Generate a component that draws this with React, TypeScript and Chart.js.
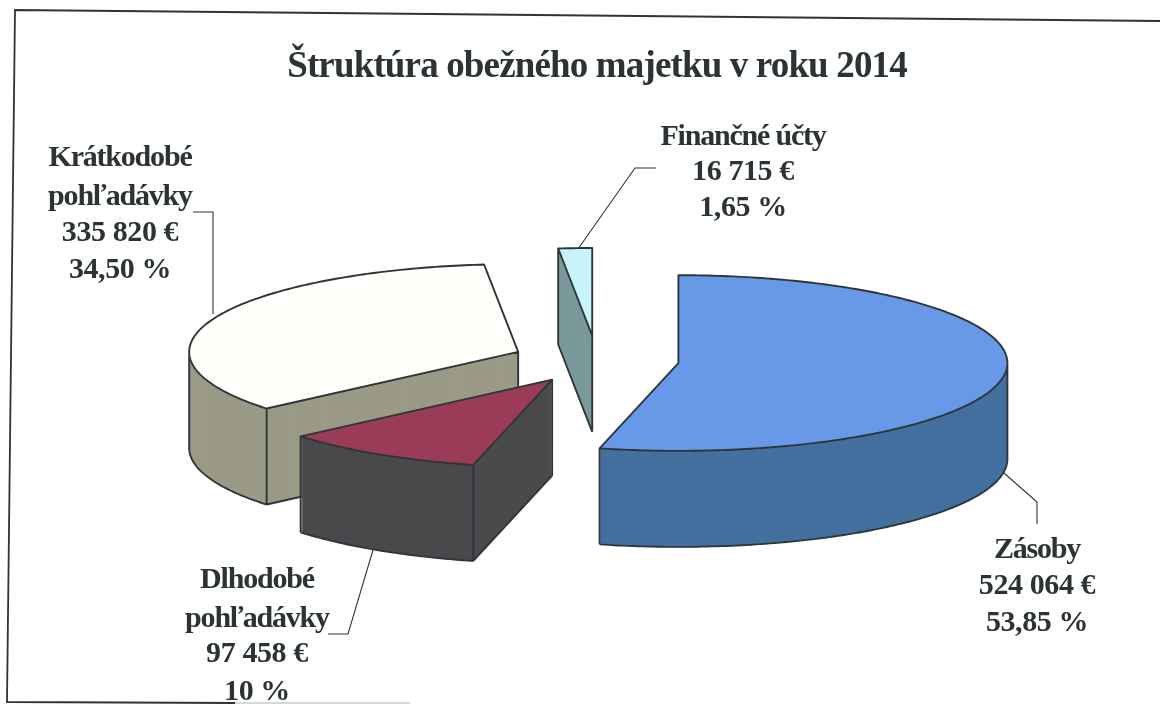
import React, { useEffect, useRef } from "react";
import { Chart, registerables } from "chart.js";

Chart.register(...registerables);

const titleText = "Štruktúra obežného majetku v roku 2014";
const categories = ["Zásoby", "Dlhodobé pohľadávky", "Krátkodobé pohľadávky", "Finančné účty"];
const shares = [53.85, 10, 34.5, 1.65];
const labelLines = [
  ["Zásoby", "524 064 €", "53,85 %"],
  ["Dlhodobé", "pohľadávky", "97 458 €", "10 %"],
  ["Krátkodobé", "pohľadávky", "335 820 €", "34,50 %"],
  ["Finančné účty", "16 715 €", "1,65 %"],
];
const topColors = ["#6799e8", "#9a3b58", "#fffffb", "#c6f4fa"];
const sideColors = ["#44709f", "#4a494c", "#9a9a86", "#7b999c"];
const explode = [82, 85, 85, 92];
const drawOrder = [2, 3, 1, 0];

const tilt = 0.267;
const depth = 96;
const INK = "#2b3434";

const labelX = [1037, 257, 120, 743];
const labelY = [
  [550, 586, 623],
  [580, 619, 654, 692],
  [158, 197, 233, 270],
  [137, 172, 208],
];
const leaders = [
  [[1004, 473], [1037, 502], [1037, 524]],
  [[373, 550], [348, 634], [328, 634]],
  [[193, 212], [213, 212], [213, 314]],
  [[578, 249], [635, 168], [656, 168]],
];
const frame = [[1160, 21], [15, 10], [7, 702], [235, 703]];
const frameFaded = [[235, 703], [410, 703]];

const pie3d = {
  id: "pie3d",
  beforeDraw(chart: any) {
    // tight setting of the scanned title
    chart.ctx.letterSpacing = "-0.85px";
  },
  beforeDatasetDraw() {
    return false;
  },
  beforeDatasetsDraw(chart: any) {
    const ctx = chart.ctx;
    ctx.letterSpacing = "0px";
    ctx.save();
    ctx.lineWidth = 1.8;
    ctx.strokeStyle = "#333";
    ctx.beginPath();
    frame.forEach(([x, y], i) => (i ? ctx.lineTo(x, y) : ctx.moveTo(x, y)));
    ctx.stroke();
    ctx.strokeStyle = "#d8d8d8";
    ctx.beginPath();
    frameFaded.forEach(([x, y], i) => (i ? ctx.lineTo(x, y) : ctx.moveTo(x, y)));
    ctx.stroke();
    ctx.restore();
  },
  afterDatasetsDraw(chart: any) {
    const ctx = chart.ctx;
    const arcs = chart.getDatasetMeta(0).data;

    drawOrder.forEach((i) => {
      const arc = arcs[i];
      const { x, y, startAngle, endAngle, outerRadius } = arc.getProps(
        ["x", "y", "startAngle", "endAngle", "outerRadius"],
        true
      );
      const mid = (startAngle + endAngle) / 2;
      const ox = Math.cos(mid) * explode[i];
      const oy = Math.sin(mid) * explode[i];
      const original = arc.options;

      const paint = (fill: string, dy: number) => {
        const o = Object.create(original);
        o.backgroundColor = fill;
        o.borderWidth = 0;
        o.offset = 0;
        arc.options = o;
        ctx.save();
        ctx.translate(0, y + dy);
        ctx.scale(1, tilt);
        ctx.translate(ox, -y + oy);
        arc.draw(ctx);
        ctx.restore();
      };

      // sides as stacked library arcs, top face last
      for (let d = depth; d > 0; d -= 1) paint(sideColors[i], d);
      paint(topColors[i], 0);
      arc.options = original;

      // projected outline of the wedge
      const pts: number[][] = [];
      const px = (a: number) => x + ox + Math.cos(a) * outerRadius;
      const py = (a: number) => y + (oy + Math.sin(a) * outerRadius) * tilt;
      const apex = [x + ox, y + oy * tilt];
      pts.push(apex);
      const steps = Math.max(2, Math.ceil((endAngle - startAngle) / 0.015));
      for (let s = 0; s <= steps; s += 1) {
        const a = startAngle + ((endAngle - startAngle) * s) / steps;
        pts.push([px(a), py(a)]);
      }
      const n = pts.length;
      const front = (k: number) => pts[(k + 1) % n][0] - pts[k][0] < -1e-6;

      ctx.save();
      ctx.strokeStyle = "#2e3638";
      ctx.lineWidth = 1.9;
      ctx.lineJoin = "round";
      ctx.beginPath();
      pts.forEach(([a, b], k) => (k ? ctx.lineTo(a, b) : ctx.moveTo(a, b)));
      ctx.closePath();
      for (let k = 0; k < n; k += 1) {
        if (front(k)) {
          ctx.moveTo(pts[k][0], pts[k][1] + depth);
          ctx.lineTo(pts[(k + 1) % n][0], pts[(k + 1) % n][1] + depth);
        }
        const prev = front((k - 1 + n) % n);
        const next = front(k);
        const corner = k === 0 || k === 1 || k === n - 1;
        if (prev !== next || (corner && (prev || next))) {
          ctx.moveTo(pts[k][0], pts[k][1]);
          ctx.lineTo(pts[k][0], pts[k][1] + depth);
        }
      }
      ctx.stroke();
      ctx.restore();
    });

    // leader lines and labels
    ctx.save();
    ctx.strokeStyle = "#333";
    ctx.lineWidth = 1.1;
    leaders.forEach((line) => {
      ctx.beginPath();
      line.forEach(([a, b], k) => (k ? ctx.lineTo(a, b) : ctx.moveTo(a, b)));
      ctx.stroke();
    });
    ctx.fillStyle = INK;
    ctx.font = 'bold 30px "Liberation Serif"';
    ctx.textAlign = "center";
    ctx.textBaseline = "middle";
    labelLines.forEach((lines, i) => {
      lines.forEach((t, k) => {
        ctx.letterSpacing = /\d/.test(t) ? "-0.4px" : "-1.2px";
        ctx.fillText(t, labelX[i], labelY[i][k]);
      });
    });
    ctx.letterSpacing = "0px";
    ctx.restore();
  },
};

export default function App() {
  const ref = useRef<HTMLCanvasElement>(null);
  useEffect(() => {
    document.body.style.margin = "0";
    document.body.style.background = "#ffffff";
    const chart = new Chart(ref.current!, {
      type: "pie",
      data: {
        labels: categories,
        datasets: [{ data: shares, backgroundColor: topColors, borderWidth: 0 }],
      },
      options: {
        animation: false,
        responsive: false,
        radius: 329,
        layout: { padding: { left: 34, right: 0, top: 45, bottom: 76.6 } },
        plugins: {
          legend: { display: false },
          tooltip: { enabled: false },
          title: {
            display: true,
            text: titleText,
            color: INK,
            font: { family: '"Liberation Serif"', size: 37, weight: "bold", lineHeight: 1.2 },
            padding: { top: 0, bottom: 4 },
          },
        },
      } as any,
      plugins: [pie3d as any],
    });
    return () => chart.destroy();
  }, []);
  return (
    <div style={{ position: "fixed", left: 0, top: 0, width: 1160, height: 704, overflow: "hidden" }}>
      <canvas ref={ref} width={1160} height={704} style={{ display: "block", filter: "blur(0.5px)" }} />
    </div>
  );
}
